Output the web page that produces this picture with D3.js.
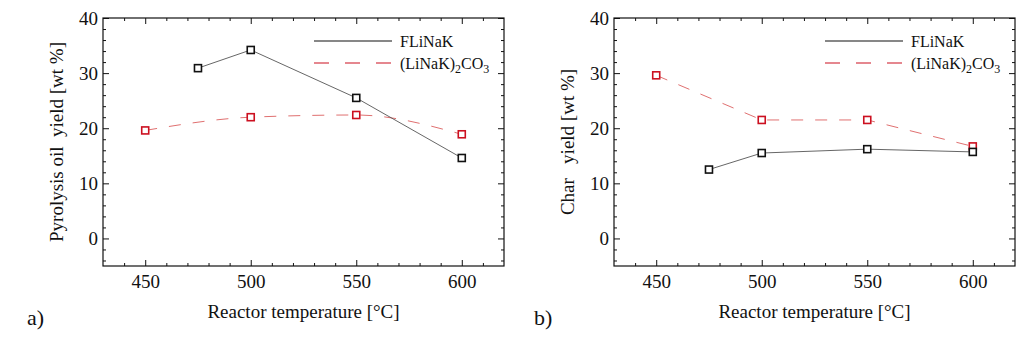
<!DOCTYPE html>
<html>
<head>
<meta charset="utf-8">
<script src="https://cdn.jsdelivr.net/npm/d3@7"></script>
<style>
  body { margin: 0; background: #fff; }
</style>
</head>
<body>
<div class="chart"></div>
<script>
// Reactor temperatures [°C]
const flinakTemp = [475, 500, 550, 600];
const carbTemp = [450, 500, 550, 600];

// Panel a) pyrolysis oil yield [wt %]
const flinakOil = [30.9, 34.2, 25.5, 14.6];
const carbOil = [19.6, 22.0, 22.4, 18.9];

// Panel b) char yield [wt %]
const flinakChar = [12.5, 15.5, 16.2, 15.7];
const carbChar = [29.6, 21.5, 21.5, 16.7];

const xTicks = [450, 500, 550, 600];
const yTicks = [0, 10, 20, 30, 40];
const seriesNames = ["FLiNaK", "(LiNaK)2CO3"];

const FONT = "'Liberation Serif', 'Times New Roman', serif";
const width = 1036, height = 339;

const svg = d3.select(".chart")
    .append("svg")
    .attr("width", width)
    .attr("height", height)
    .attr("font-family", FONT);

const draw_panel = (left, yValsA, yValsB, yTitle, letter, curveB) => {
    const margin = { top: 18, left: left };
    const w = 401, h = 248;

    const g = svg.append("g")
        .attr("transform", "translate(" + margin.left + "," + margin.top + ")");

    const scaleX = d3.scaleLinear().domain([430, 620]).range([0, w]);
    const scaleY = d3.scaleLinear().domain([-5, 40]).range([h, 0]);

    const minorX = d3.range(440, 620, 10).filter(v => !xTicks.includes(v));
    const minorY = d3.range(-4, 40, 2).filter(v => !yTicks.includes(v));

    // inward ticks on all four sides
    const addTicks = (axisFn, scale, values, size, transform) => {
        const a = g.append("g")
            .attr("transform", transform)
            .call(axisFn(scale).tickValues(values).tickSize(size).tickFormat(""));
        a.select(".domain").remove();
        a.selectAll("line").attr("stroke", "#111").attr("stroke-width", 1);
    };

    addTicks(d3.axisTop, scaleX, minorX, 3, "translate(0," + h + ")");
    addTicks(d3.axisBottom, scaleX, minorX, 3, "translate(0,0)");
    addTicks(d3.axisRight, scaleY, minorY, 3, "translate(0,0)");
    addTicks(d3.axisLeft, scaleY, minorY, 3, "translate(" + w + ",0)");

    addTicks(d3.axisTop, scaleX, xTicks, 6, "translate(0," + h + ")");
    addTicks(d3.axisBottom, scaleX, xTicks, 6, "translate(0,0)");
    addTicks(d3.axisRight, scaleY, yTicks, 6, "translate(0,0)");
    addTicks(d3.axisLeft, scaleY, yTicks, 6, "translate(" + w + ",0)");

    // tick labels
    const xl = g.append("g")
        .attr("transform", "translate(0," + h + ")")
        .call(d3.axisBottom(scaleX).tickValues(xTicks).tickSize(0).tickPadding(9));
    xl.select(".domain").remove();
    xl.attr("font-family", FONT).attr("font-size", 19);
    xl.selectAll("text").attr("fill", "#111");

    const yl = g.append("g")
        .call(d3.axisLeft(scaleY).tickValues(yTicks).tickSize(0).tickPadding(5));
    yl.select(".domain").remove();
    yl.attr("font-family", FONT).attr("font-size", 19);
    yl.selectAll("text").attr("fill", "#111");

    // frame
    g.append("rect")
        .attr("width", w).attr("height", h)
        .attr("fill", "none").attr("stroke", "#111").attr("stroke-width", 1.2);

    // data lines
    const lineFunc = (xs, curve) => d3.line()
        .x((d, i) => scaleX(xs[i]))
        .y(d => scaleY(d))
        .curve(curve);

    g.append("path")
        .attr("d", lineFunc(carbTemp, curveB)(yValsB))
        .attr("fill", "none")
        .attr("stroke", "#e07070")
        .attr("stroke-width", 1)
        .attr("stroke-dasharray", "12 12");

    g.append("path")
        .attr("d", lineFunc(flinakTemp, d3.curveLinear)(yValsA))
        .attr("fill", "none")
        .attr("stroke", "#555")
        .attr("stroke-width", 0.9);

    // markers
    const sq = 7;
    g.selectAll(".m-carb").data(yValsB).enter().append("rect")
        .attr("x", (d, i) => scaleX(carbTemp[i]) - sq / 2)
        .attr("y", d => scaleY(d) - sq / 2)
        .attr("width", sq).attr("height", sq)
        .attr("fill", "#fff").attr("stroke", "#cc1020").attr("stroke-width", 1.6);

    g.selectAll(".m-fl").data(yValsA).enter().append("rect")
        .attr("x", (d, i) => scaleX(flinakTemp[i]) - sq / 2)
        .attr("y", d => scaleY(d) - sq / 2)
        .attr("width", sq).attr("height", sq)
        .attr("fill", "#fff").attr("stroke", "#111").attr("stroke-width", 1.6);

    // legend
    const lg = g.append("g").attr("transform", "translate(" + (w - 190) + ",23)");
    lg.append("line").attr("x1", 0).attr("x2", 78).attr("y1", 0).attr("y2", 0)
        .attr("stroke", "#111").attr("stroke-width", 1.2);
    lg.append("text").attr("x", 86).attr("y", 5.5).attr("font-size", 16).attr("fill", "#111").text(seriesNames[0]);
    lg.append("line").attr("x1", 0).attr("x2", 78).attr("y1", 22).attr("y2", 22)
        .attr("stroke", "#cc1020").attr("stroke-width", 1.2)
        .attr("stroke-dasharray", "15 16");
    const t2 = lg.append("text").attr("x", 86).attr("y", 27.5).attr("font-size", 16).attr("fill", "#111");
    t2.append("tspan").text("(LiNaK)");
    t2.append("tspan").attr("dy", 4).attr("font-size", 12).text("2");
    t2.append("tspan").attr("dy", -4).text("CO");
    t2.append("tspan").attr("dy", 4).attr("font-size", 12).text("3");

    // axis titles
    g.append("text")
        .attr("x", w / 2).attr("y", h + 52)
        .attr("text-anchor", "middle")
        .attr("font-size", 19)
        .attr("fill", "#111")
        .text("Reactor temperature [°C]");

    g.append("text")
        .attr("transform", "translate(-40," + (h / 2) + ") rotate(-90)")
        .attr("text-anchor", "middle")
        .attr("font-size", 19)
        .attr("fill", "#111")
        .style("white-space", "pre")
        .text(yTitle);

    g.append("text")
        .attr("x", letter.x - margin.left).attr("y", h + 59)
        .attr("font-size", 22)
        .attr("fill", "#111")
        .text(letter.text);
};

draw_panel(103, flinakOil, carbOil, "Pyrolysis oil  yield [wt %]", { text: "a)", x: 27 }, d3.curveMonotoneX);
draw_panel(614, flinakChar, carbChar, "Char   yield [wt %]", { text: "b)", x: 534 }, d3.curveLinear);
</script>
</body>
</html>
